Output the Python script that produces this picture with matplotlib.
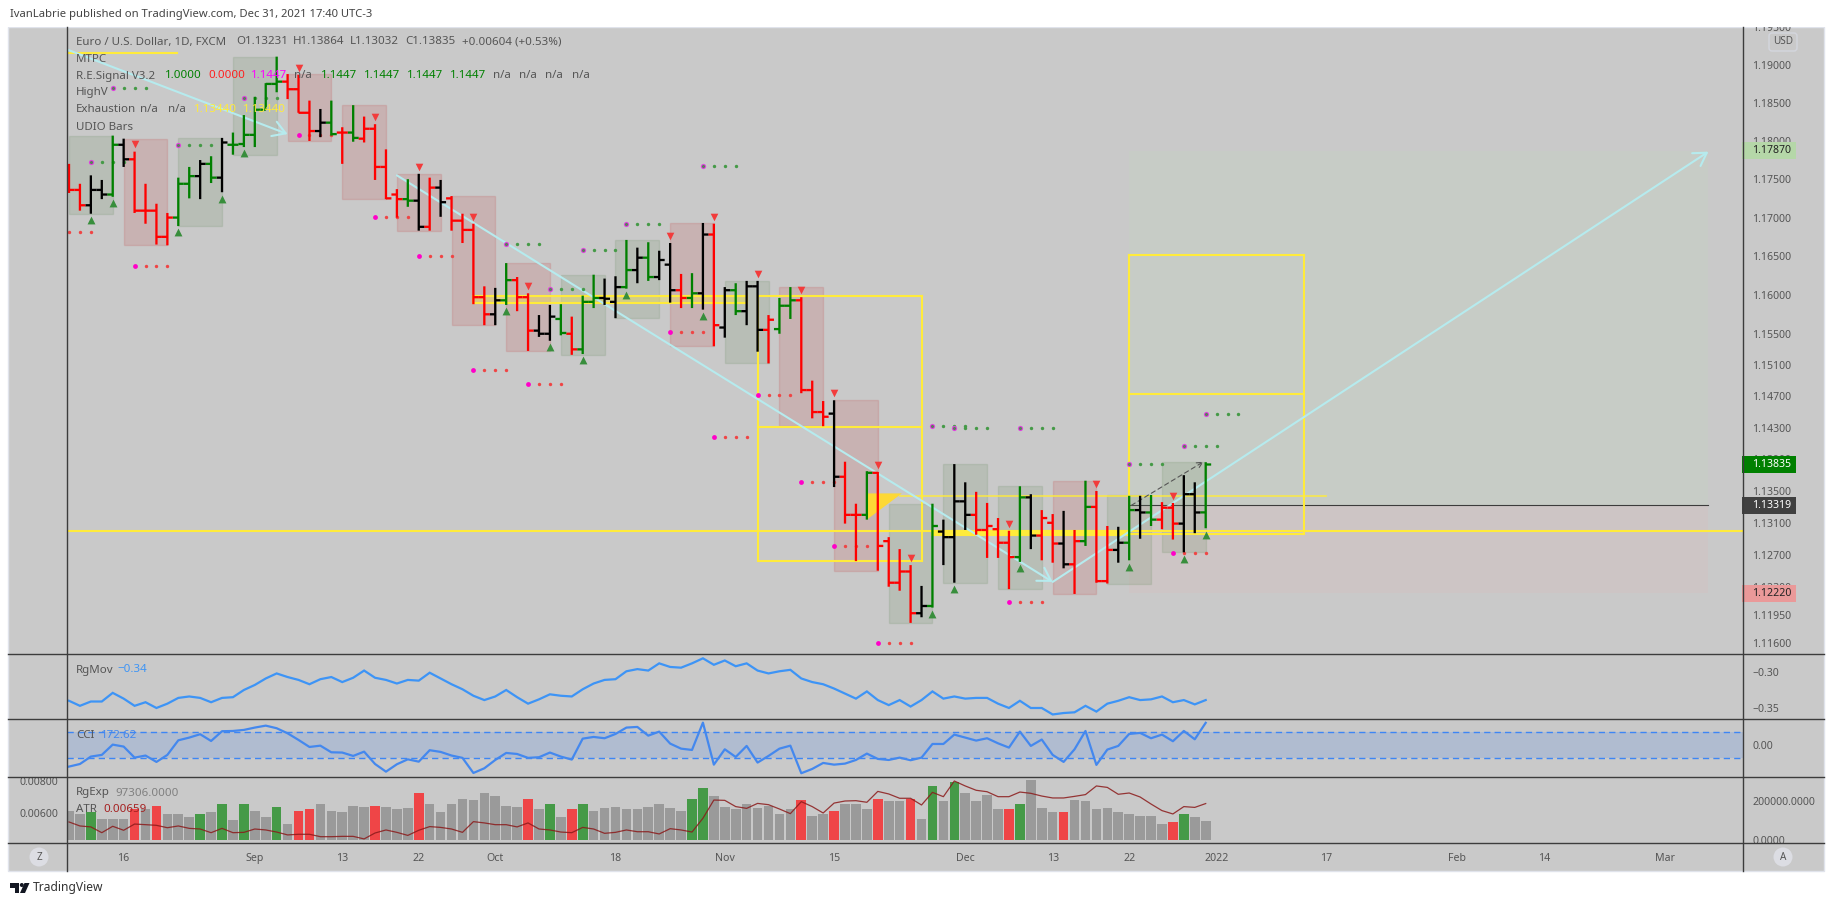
import numpy as np
import matplotlib
matplotlib.use('Agg')
import matplotlib.pyplot as plt
from matplotlib.lines import Line2D
from matplotlib.patches import Rectangle, Circle, Polygon, FancyBboxPatch
from matplotlib.ticker import FixedLocator, NullLocator, NullFormatter
from matplotlib.transforms import Affine2D, Bbox

plt.rcParams['font.family'] = ['Noto Sans', 'DejaVu Sans']

# OHLC diario EUR/USD
opens = [1.1755,1.1736,1.1716,1.1736,1.1730,1.1795,1.1776,1.1709,1.1709,1.1675,
         1.1700,1.1744,1.1754,1.1770,1.1752,1.1795,1.1796,1.1808,1.1841,1.1875,
         1.1878,1.1868,1.1837,1.1813,1.1824,1.1811,1.1811,1.1803,1.1816,1.1766,
         1.1730,1.1724,1.1722,1.1688,1.1739,1.1725,1.1696,1.1684,1.1597,1.1575,
         1.1593,1.1619,1.1597,1.1554,1.1550,1.1569,1.1550,1.1530,1.1591,1.1596,
         1.1591,1.1610,1.1632,1.1648,1.1623,1.1639,1.1606,1.1596,1.1602,1.1678,
         1.1558,1.1606,1.1579,1.1611,1.1555,1.1556,1.1586,1.1593,1.1478,1.1450,
         1.1448,1.1368,1.1320,1.1320,1.1373,1.1287,1.1235,1.1249,1.1197,1.1206,
         1.1299,1.1292,1.1337,1.1320,1.1301,1.1302,1.1285,1.1267,1.1342,1.1294,
         1.1310,1.1284,1.1258,1.1287,1.1330,1.1237,1.1276,1.1285,1.1326,1.1323,
         1.1314,1.1329,1.1309,1.1346,1.13231]
highs = [1.1770,1.1744,1.1755,1.1749,1.1807,1.1803,1.1786,1.1744,1.1718,1.1706,
         1.1752,1.1766,1.1775,1.1780,1.1804,1.1811,1.1834,1.1858,1.1876,1.1911,
         1.1888,1.1887,1.1853,1.1842,1.1853,1.1818,1.1847,1.1832,1.1822,1.1789,
         1.1737,1.1750,1.1757,1.1752,1.1749,1.1728,1.1705,1.1692,1.1611,1.1609,
         1.1641,1.1623,1.1602,1.1574,1.1587,1.1588,1.1572,1.1599,1.1626,1.1621,
         1.1624,1.1671,1.1661,1.1668,1.1657,1.1667,1.1627,1.1628,1.1693,1.1692,
         1.1610,1.1615,1.1618,1.1618,1.1574,1.1596,1.1610,1.1597,1.1490,1.1464,
         1.1465,1.1387,1.1334,1.1375,1.1374,1.1292,1.1277,1.1257,1.1231,1.1334,
         1.1314,1.1384,1.1361,1.1349,1.1335,1.1316,1.1300,1.1356,1.1346,1.1326,
         1.1321,1.1325,1.1301,1.1363,1.1350,1.1306,1.1305,1.1344,1.1344,1.1345,
         1.1336,1.1335,1.1370,1.1361,1.13864]
lows = [1.1732,1.1709,1.1705,1.1724,1.1727,1.1766,1.1706,1.1692,1.1665,1.1664,
        1.1689,1.1725,1.1724,1.1745,1.1733,1.1782,1.1792,1.1792,1.1841,1.1864,
        1.1855,1.1837,1.1800,1.1805,1.1807,1.1770,1.1799,1.1798,1.1749,1.1724,
        1.1700,1.1714,1.1683,1.1683,1.1701,1.1683,1.1667,1.1588,1.1561,1.1561,
        1.1587,1.1579,1.1528,1.1546,1.1541,1.1548,1.1523,1.1524,1.1583,1.1587,
        1.1570,1.1608,1.1615,1.1618,1.1619,1.1590,1.1583,1.1583,1.1581,1.1534,
        1.1545,1.1574,1.1561,1.1527,1.1512,1.1550,1.1569,1.1474,1.1442,1.1432,
        1.1355,1.1309,1.1262,1.1314,1.1250,1.1230,1.1225,1.1185,1.1192,1.1204,
        1.1257,1.1235,1.1301,1.1295,1.1266,1.1266,1.1227,1.1261,1.1277,1.1263,
        1.1260,1.1253,1.1221,1.1281,1.1235,1.1234,1.1260,1.1263,1.1290,1.1306,
        1.1302,1.1289,1.1273,1.1297,1.13032]
closes = [1.1736,1.1716,1.1736,1.1730,1.1795,1.1776,1.1709,1.1709,1.1675,1.1700,
          1.1744,1.1754,1.1770,1.1752,1.1798,1.1795,1.1808,1.1841,1.1875,1.1878,
          1.1868,1.1837,1.1813,1.1824,1.1809,1.1811,1.1804,1.1816,1.1766,1.1725,
          1.1724,1.1722,1.1688,1.1739,1.1720,1.1696,1.1684,1.1597,1.1575,1.1593,
          1.1619,1.1597,1.1554,1.1550,1.1572,1.1551,1.1530,1.1591,1.1596,1.1595,
          1.1610,1.1632,1.1648,1.1623,1.1645,1.1606,1.1596,1.1602,1.1678,1.1561,
          1.1606,1.1579,1.1611,1.1555,1.1568,1.1586,1.1593,1.1478,1.1450,1.1444,
          1.1368,1.1320,1.1320,1.1373,1.1281,1.1235,1.1249,1.1197,1.1206,1.1306,
          1.1292,1.1337,1.1320,1.1301,1.1306,1.1285,1.1267,1.1342,1.1294,1.1316,
          1.1284,1.1258,1.1287,1.1330,1.1237,1.1276,1.1285,1.1326,1.1323,1.1314,
          1.1329,1.1309,1.1346,1.1323,1.13835]
bar_kinds = ("rrkkgkrrrr" "ggkgkggggg" "rrrkgrgrrr" "rgkrkrrrrk" "grrkkgrggk"
             "kgkgkkrgkr" "kgkkrggrrr" "krrgrrrrkg" "kkkrrrrgkr" "rkrgrrkgkg" "rrkkg")
box_kinds = "GRGGRRRRRGGRGRRGGGRGG"

sell_marks = [6, 21, 28, 32, 37, 42, 55, 59, 63, 67, 70, 74, 77, 86, 94, 101]
buy_marks = [2, 4, 10, 14, 16, 40, 44, 47, 51, 58, 79, 81, 87, 97, 102, 104]

red_rows_at = [-1, 6, 21, 28, 32, 37, 42, 55, 59, 63, 67, 70, 74, 86, 101]
red_rows_px = [1.1681, 1.1637, 1.1808, 1.1701, 1.1650, 1.1504, 1.1486, 1.1552, 1.1418,
               1.1472, 1.1361, 1.1281, 1.1160, 1.1211, 1.1272]
green_rows_at = [2, 4, 10, 16, 40, 44, 47, 51, 58, 79, 81, 87, 97, 102, 104]
green_rows_px = [1.1772, 1.1870, 1.1795, 1.1856, 1.1666, 1.1608, 1.1658, 1.1692, 1.1767,
                 1.1432, 1.1430, 1.1430, 1.1384, 1.1407, 1.1447]

rgmov = [-0.340,-0.347,-0.341,-0.341,-0.329,-0.337,-0.347,-0.342,-0.350,-0.344,
         -0.336,-0.334,-0.336,-0.342,-0.336,-0.335,-0.325,-0.318,-0.309,-0.302,
         -0.307,-0.311,-0.317,-0.310,-0.307,-0.314,-0.308,-0.298,-0.308,-0.311,
         -0.316,-0.311,-0.312,-0.301,-0.309,-0.317,-0.324,-0.333,-0.339,-0.334,
         -0.325,-0.335,-0.344,-0.338,-0.331,-0.333,-0.334,-0.324,-0.316,-0.311,
         -0.310,-0.299,-0.296,-0.298,-0.288,-0.293,-0.294,-0.288,-0.281,-0.290,
         -0.284,-0.292,-0.288,-0.298,-0.302,-0.299,-0.297,-0.309,-0.314,-0.317,
         -0.323,-0.330,-0.337,-0.327,-0.339,-0.346,-0.339,-0.348,-0.339,-0.327,
         -0.337,-0.334,-0.337,-0.336,-0.336,-0.344,-0.350,-0.340,-0.350,-0.350,
         -0.359,-0.357,-0.356,-0.347,-0.355,-0.344,-0.340,-0.335,-0.339,-0.338,
         -0.334,-0.342,-0.339,-0.345,-0.339]
cci = [-164,-144,-87,-74,5,-10,-95,-79,-128,-74,38,59,85,33,108,110,118,136,151,131,
       92,41,-13,-3,-54,-56,-82,-49,-144,-203,-146,-108,-126,-38,-51,-79,-97,-213,-177,-113,
       -59,-67,-97,-92,-56,-87,-110,51,64,54,87,136,141,74,105,13,-26,-36,174,-149,
       -31,-90,-5,-133,-82,-26,-3,-215,-182,-136,-149,-141,-113,-64,-105,-113,-95,-115,-95,10,
       10,82,59,36,54,15,-18,105,-5,44,-74,-128,-31,110,-151,-33,-5,87,95,54,
       82,31,110,46,172.62]
volume = [152600,131600,147300,110500,110500,110500,157900,157900,178900,131600,
          131600,115800,131600,142100,189400,105200,184200,152600,121000,173600,
          84200,152600,163100,184200,152600,147300,178900,173600,178900,173600,
          157900,168400,247300,184200,142100,189400,215700,210500,242100,226300,
          178900,173600,215700,157900,184200,121000,163100,189400,152600,168400,
          173600,163100,163100,173600,189400,168400,152600,215700,268400,226300,
          173600,163100,189400,168400,178900,136800,163100,210500,126300,136800,
          152600,184200,189400,163100,215700,205200,200000,215700,110500,284100,
          200000,305200,242100,200000,236800,157900,163100,189400,310500,168400,
          142100,147300,210500,205200,163100,168400,147300,136800,126300,126300,
          84200,94700,131600,121000,97306]
vol_green = [2, 12, 14, 16, 19, 44, 47, 57, 58, 79, 81, 87, 102]
vol_red = [6, 8, 21, 22, 28, 32, 42, 46, 67, 70, 74, 77, 86, 91, 101]
atr = [.00544,.00519,.00513,.00477,.00517,.00492,.00531,.00527,.00523,.00508,
       .00519,.00504,.00500,.00477,.00504,.00477,.00479,.00500,.00494,.00481,
       .00463,.00467,.00467,.00452,.00452,.00454,.00454,.00438,.00475,.00494,
       .00479,.00460,.00492,.00515,.00510,.00500,.00479,.00546,.00538,.00527,
       .00527,.00513,.00538,.00500,.00494,.00481,.00477,.00510,.00500,.00473,
       .00479,.00494,.00483,.00483,.00469,.00502,.00494,.00481,.00567,.00681,
       .00679,.00640,.00629,.00660,.00652,.00625,.00596,.00671,.00640,.00600,
       .00662,.00675,.00677,.00667,.00735,.00719,.00692,.00692,.00650,.00729,
       .00702,.00800,.00769,.00742,.00733,.00702,.00702,.00731,.00723,.00706,
       .00694,.00694,.00704,.00715,.00769,.00760,.00717,.00725,.00700,.00656,
       .00615,.00594,.00640,.00635,.00659]

price_ticks = [1.195,1.19,1.185,1.18,1.175,1.17,1.165,1.16,1.155,1.151,1.147,1.143,
               1.139,1.135,1.131,1.127,1.123,1.1195,1.116]
time_ticks = [5, 17, 25, 32, 39, 50, 60, 70, 82, 90, 97, 105, 115, 127, 135, 146]
time_labels = ['16','Sep','13','22','Oct','18','Nov','15','Dec','13','22','2022','17','Feb','14','Mar']

W, H = 1834, 906
BG = '#c9c9c9'
LINE = '#3c3c3c'
YEL = '#ffeb3b'
CYAN = '#b6ebee'
TXT = '#555555'
BAR_COL = {'r': '#ff0000', 'g': '#008000', 'k': '#000000'}
XMIN, XMAX = -0.183, 153.16

fig = plt.figure(figsize=(W/100, H/100), dpi=100, facecolor='white')
# transformacion en pixeles con origen arriba a la izquierda
tpx = Affine2D().scale(1/W, -1/H).translate(0, 1) + fig.transFigure


def pane(y0, y1):
    ax = fig.add_axes([67/W, 1-y1/H, (1743-67)/W, (y1-y0)/H])
    ax.patch.set_alpha(0)
    ax.set_xlim(XMIN, XMAX)
    ax.set_xticks([])
    for s in ax.spines.values():
        s.set_visible(False)
    ax.yaxis.tick_right()
    ax.tick_params(axis='y', length=0, pad=6.5, labelsize=7.6, labelcolor=TXT)
    return ax


def label(x, y, s, color=TXT, size=8.3, **kw):
    fig.text(x, y, s, transform=tpx, color=color, fontsize=size, va='center', **kw)


fig.add_artist(Rectangle((8, 27), 1816, 844, transform=tpx, fc=BG, ec='#e0e3eb', lw=1, zorder=-1))

# panel de precios
ax = pane(27, 654)
ax.set_yscale('log')
ax.set_ylim(1.11464, 1.19503)
ax.yaxis.set_major_locator(FixedLocator(price_ticks))
ax.yaxis.set_major_formatter(matplotlib.ticker.FuncFormatter(lambda v, p: '%.5f' % v))
ax.yaxis.set_minor_locator(NullLocator())
ax.yaxis.set_minor_formatter(NullFormatter())

idx = np.arange(len(closes))
o = np.array(opens)
h = np.array(highs)
l = np.array(lows)
c = np.array(closes)
cols = [BAR_COL[k] for k in bar_kinds]

# zonas de la posicion larga
ax.add_patch(Rectangle((97, 1.13319), 53, 1.1787-1.13319, fc='#c7ccc6', ec='none', zorder=1))
ax.add_patch(Rectangle((97, 1.1222), 53, 1.13319-1.1222, fc='#cdc5c5', ec='none', zorder=1))
ax.plot([97, 150], [1.13319, 1.13319], color='#3c3c3c', lw=0.8, zorder=2)

# cajas de 5 velas
for n, kind in enumerate(box_kinds):
    i0 = n*5
    top = h[i0:i0+5].max()
    bot = l[i0:i0+5].min()
    fc = '#74926a' if kind == 'G' else '#c45656'
    ax.add_patch(Rectangle((i0, bot), 4, top-bot, fc=fc, ec=fc, alpha=0.2, lw=1, zorder=2))

# dibujos amarillos
for x0, x1, levels in [(63, 78, [1.1598, 1.1431, 1.1262]), (97, 113, [1.1652, 1.1473, 1.1296])]:
    ax.plot([x0, x0], [levels[0], levels[2]], color=YEL, lw=1.5, zorder=3)
    ax.plot([x1, x1], [levels[0], levels[2]], color=YEL, lw=1.5, zorder=3)
    for lev in levels:
        ax.plot([x0, x1], [lev, lev], color=YEL, lw=1.5, zorder=3)
ax.axhline(1.1300, color=YEL, lw=1.5, zorder=3)
ax.plot([76, 115], [1.1344, 1.1344], color=YEL, lw=1.3, alpha=0.8, zorder=3)
ax.plot([-0.2, 9.9], [1.1916, 1.1916], color=YEL, lw=1.5, zorder=3)
ax.add_patch(Rectangle((37, 1.1589), 25, 1.1598-1.1589, fc=(1, 0.92, 0.23, 0.35), ec=YEL, lw=1.5, zorder=3))
ax.add_patch(Rectangle((79, 1.1295), 18, 1.1300-1.1295, fc=YEL, ec=YEL, lw=1.5, zorder=3))
ax.add_patch(Polygon([(73, 1.1347), (76.2, 1.1347), (73, 1.1314)], fc='#fdd835', ec='none', zorder=3))

# flechas
for xa, pa, xb, pb in [(-0.1, 1.1920, 20, 1.1809), (30, 1.1755, 90, 1.1236), (90, 1.1236, 150, 1.1786)]:
    ax.annotate('', xy=(xb, pb), xytext=(xa, pa), zorder=4,
                arrowprops=dict(arrowstyle='->,head_length=0.9,head_width=0.55', color=CYAN, lw=1.5,
                                shrinkA=0, shrinkB=0))
ax.annotate('', xy=(103.8, 1.1387), xytext=(97.2, 1.1332), zorder=4,
            arrowprops=dict(arrowstyle='->', color='#555555', lw=0.8, ls=(0, (4, 3)), shrinkA=0, shrinkB=0))

# filas de puntos
for at, lev in zip(red_rows_at, red_rows_px):
    ax.scatter([at], [lev], s=12, color='#ff00c8', lw=0, zorder=4.5)
    ax.scatter([at+1, at+2, at+3], [lev]*3, s=6, color='#ef4545', lw=0, zorder=4.5)
for at, lev in zip(green_rows_at, green_rows_px):
    ax.scatter([at], [lev], s=14, color='#e040e0', lw=0, zorder=4.5)
    ax.scatter([at], [lev], s=5, color='#5a7f5a', lw=0, zorder=4.5)
    ax.scatter([at+1, at+2, at+3], [lev]*3, s=6, color='#459a47', lw=0, zorder=4.5)

# barras OHLC
ax.vlines(idx, l, h, colors=cols, lw=1.65, zorder=5, snap=False)
ax.hlines(o, idx-0.5, idx, colors=cols, lw=1.65, zorder=5, snap=False)
ax.hlines(c, idx, idx+0.5, colors=cols, lw=1.65, zorder=5, snap=False)

# triangulos de senal
ax.scatter(sell_marks, h[sell_marks]*1.0008, marker='v', s=30, color='#f23b3b', lw=0, zorder=6)
ax.scatter(buy_marks, l[buy_marks]*0.9993, marker='^', s=32, color='#388e3c', lw=0, zorder=6)

# RgMov
ax2 = pane(654, 719)
ax2.plot(idx, rgmov, color='#3d94f6', lw=1.6, solid_joinstyle='miter')
ax2.set_ylim(-0.3653, -0.275)
ax2.set_yticks([-0.30, -0.35], ['\u22120.30', '\u22120.35'])

# CCI
ax3 = pane(719, 777)
ax3.axhspan(-100, 100, fc='#b0bcd0', ec='none')
ax3.axhline(100, color='#3d86f5', lw=1, ls=(0, (4.5, 3)))
ax3.axhline(-100, color='#3d86f5', lw=1, ls=(0, (4.5, 3)))
ax3.plot(idx, cci, color='#4488ee', lw=1.6)
ax3.set_ylim(-244, 202)
ax3.set_yticks([0], ['0.00'])

# volumen y ATR
ax4 = pane(777, 843)
vcols = ['#9a9a9a']*len(volume)
for i in vol_green:
    vcols[i] = '#459a47'
for i in vol_red:
    vcols[i] = '#ef4547'
ax4.bar(idx, volume, width=0.88, color=vcols, lw=0)
ax4.set_ylim(-18400, 328900)
ax4.set_xticks(time_ticks, time_labels)
ax4.tick_params(axis='x', length=0, pad=7, labelsize=7.6, labelcolor=TXT)
for t in ax4.get_xticklabels():
    if t.get_text() == '2022':
        t.set_fontweight('bold')
ax5 = ax4.twinx()
ax5.patch.set_alpha(0)
for s in ax5.spines.values():
    s.set_visible(False)
ax5.plot(idx, atr, color='#8b1a1a', lw=0.9, alpha=0.85)
ax5.set_ylim(.004125, .00825)
# twinx cambia los lados: volumen a la derecha, ATR a la izquierda
ax4.yaxis.tick_right()
ax5.yaxis.tick_left()
ax4.set_yticks([0, 200000], ['0.0000', '200000.0000'])
ax5.set_yticks([.006, .008], ['0.00600', '0.00800'])
ax4.tick_params(axis='y', length=0, pad=6.5, labelsize=7.6, labelcolor=TXT)
ax5.tick_params(axis='y', length=0, pad=6.5, labelsize=7.6, labelcolor=TXT)

# recortar los rotulos que cortan el borde del panel
for t in ax5.get_yticklabels() + ax4.get_yticklabels():
    t.set_clip_on(True)
    t.set_clip_box(Bbox([[0, H-843], [W, H-777]]))

# separadores
for y in [654, 719, 777, 843]:
    fig.add_artist(Line2D([8, 1824], [y, y], transform=tpx, color=LINE, lw=1))
for x in [67, 1743]:
    fig.add_artist(Line2D([x, x], [27, 871], transform=tpx, color=LINE, lw=1))

# tapa blanca arriba para cortar 1.19500
fig.add_artist(Rectangle((0, 0), W, 26.5, transform=tpx, fc='white', ec='none', zorder=1))

# etiquetas de precio del eje derecho
for price, fc, tc, weight in [(1.1787, '#b5d7a8', '#222222', 'normal'), (1.13835, '#008000', 'white', 'bold'),
                              (1.13319, '#404040', 'white', 'bold'), (1.1222, '#ea9999', '#222222', 'normal')]:
    ypix = H - ax.transData.transform((0, price))[1]
    fig.add_artist(Rectangle((1742, ypix-8.5), 54, 17, transform=tpx, fc=fc, ec='none', zorder=1))
    label(1752, ypix, '%.5f' % price, color=tc, size=7.6, fontweight=weight)

fig.add_artist(FancyBboxPatch((1772, 36), 22, 12, boxstyle='round,pad=3,rounding_size=3', transform=tpx,
                              fc=BG, ec='#d4d6de', lw=1, zorder=1))
label(1783, 42, 'USD', size=7.2, ha='center')

# leyendas
label(10, 15, 'IvanLabrie published on TradingView.com, Dec 31, 2021 17:40 UTC-3', color='#444444', size=8.1)
label(76, 42, 'Euro / U.S. Dollar, 1D, FXCM')
for x, s in [(236, 'O1.13231'), (293, 'H1.13864'), (350, 'L1.13032'), (405.5, 'C1.13835'), (462, '+0.00604 (+0.53%)')]:
    label(x, 42, s)
label(76, 59, 'MTPC')
label(76, 76, 'R.E.Signal V3.2')
for x, s, col in [(165, '1.0000', '#008000'), (208, '0.0000', '#ff2020'), (251, '1.1447', '#ff00ff'), (294, 'n/a', TXT),
                  (321, '1.1447', '#008000'), (364, '1.1447', '#008000'), (407, '1.1447', '#008000'),
                  (450, '1.1447', '#008000'), (493, 'n/a', TXT), (519, 'n/a', TXT), (545, 'n/a', TXT), (572, 'n/a', TXT)]:
    label(x, 76, s, color=col)
label(76, 93, 'HighV')
label(76, 110, 'Exhaustion')
for x, s, col in [(140, 'n/a', TXT), (168, 'n/a', TXT), (194, '1.13440', YEL), (243, '1.13440', YEL)]:
    label(x, 110, s, color=col)
label(76, 127, 'UDIO Bars')

label(76, 670, 'RgMov')
label(117.5, 670, '\u22120.34', color='#3d94f6')
label(76, 735, 'CCI')
label(101, 735, '172.62', color='#4488ee')
label(76, 793, 'RgExp')
label(115, 793, '97306.0000', color='#808080')
label(76, 810, 'ATR')
label(103, 810, '0.00659', color='#a52020')

# botones Z y A
for x, s in [(39, 'Z'), (1783, 'A')]:
    fig.add_artist(Circle((x, 857), 9.5, transform=tpx, fc='#dcdde3', ec='none', zorder=1))
    label(x, 857, s, size=7.2, ha='center')

# logo y pie
fig.add_artist(Polygon([(10, 883), (19, 883), (19, 893), (15, 893), (15, 887.5), (10, 887.5)], transform=tpx,
                       fc='#131722', ec='none', zorder=1))
fig.add_artist(Circle((21.8, 885), 2, transform=tpx, fc='#131722', ec='none', zorder=1))
fig.add_artist(Polygon([(29.5, 883), (25, 893), (20, 893), (24.5, 883)], transform=tpx,
                       fc='#131722', ec='none', zorder=1))
label(33, 888, 'TradingView', color='#333333', size=8.7)

fig.savefig('out.png', dpi=100, facecolor='white')
